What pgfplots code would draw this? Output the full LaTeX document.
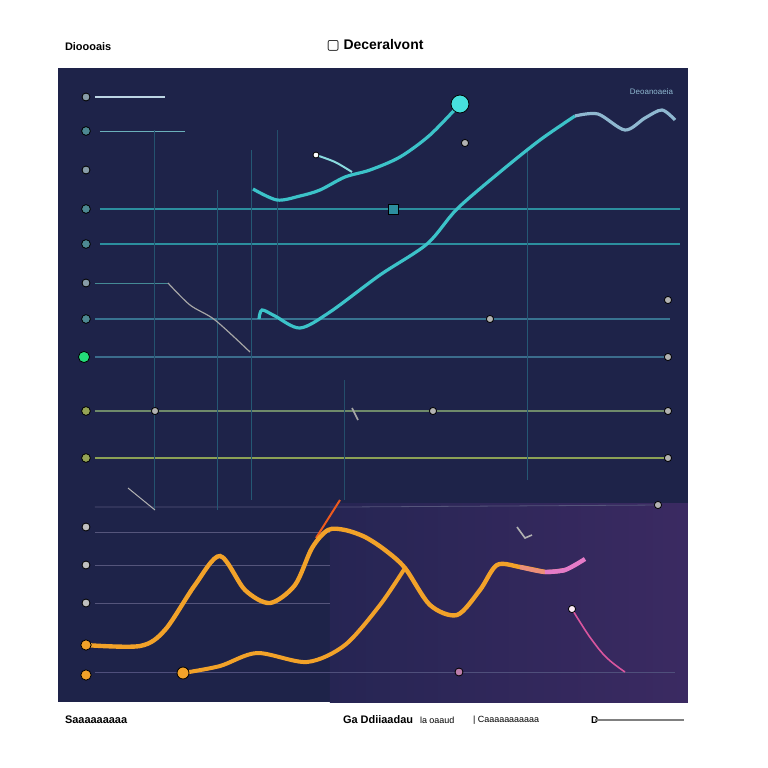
\documentclass[border=0pt]{standalone}
\usepackage{pgfplots}
\pgfplotsset{compat=1.18}
\usepackage{fontspec}
\setmainfont{Liberation Sans}
\newfontfamily\dejavu{DejaVu Sans}
\definecolor{panel}{HTML}{1E2349}
\definecolor{purp}{HTML}{3B2A62}
\definecolor{purpL}{HTML}{262553}
\definecolor{teal}{HTML}{3CC3C9}
\definecolor{tealB}{HTML}{47E0DD}
\definecolor{tealG}{HTML}{2C8E9E}
\definecolor{gridY}{HTML}{6F8A6A}
\definecolor{gridP}{HTML}{4A4A7A}
\definecolor{orng}{HTML}{F2A229}
\definecolor{pinkc}{HTML}{E57BC8}
\definecolor{lblue}{HTML}{8FB8D0}
\begin{document}
\begin{tikzpicture}
\begin{axis}[
  width=315bp, height=317bp, scale only axis,
  xmin=58, xmax=688, ymin=68, ymax=702, y dir=reverse,
  axis background/.style={fill=panel},
  axis line style={draw=none}, xtick=\empty, ytick=\empty,
  clip=false,
]
% bounding box of whole image
\path (axis cs:0,0) rectangle (axis cs:768,768);
% purple region
\addplot[draw=none, left color=purpL, right color=purp] coordinates {(330,503) (688,503) (688,702) (330,702)} -- cycle;
% horizontal grid lines
\addplot[lblue!60, line width=0.6pt] coordinates {(95,97) (165,97)};
\addplot[tealG!70, line width=0.5pt] coordinates {(100,131) (185,131)};
\addplot[tealG, line width=0.8pt] coordinates {(100,209) (680,209)};
\addplot[tealG, line width=0.8pt] coordinates {(100,244) (680,244)};
\addplot[tealG!70!gray, line width=0.5pt] coordinates {(95,283) (168,283)};
\addplot[tealG!60!gridP, line width=0.6pt] coordinates {(95,319) (670,319)};
\addplot[tealG!50!gridP, line width=0.6pt] coordinates {(95,357) (668,357)};
\addplot[gridY, line width=0.6pt] coordinates {(95,411) (668,411)};
\addplot[gridY!80!yellow, line width=0.6pt] coordinates {(95,458) (668,458)};
\addplot[gridP!80!gray, line width=0.4pt] coordinates {(95,507) (345,507) (660,505)};
\addplot[gridP!80!gray, line width=0.4pt] coordinates {(95,532) (330,532)};
\addplot[gridP!80!gray, line width=0.4pt] coordinates {(95,565) (330,565)};
\addplot[gridP!80!gray, line width=0.4pt] coordinates {(95,603) (330,603)};
\addplot[gridP!90!gray, line width=0.4pt] coordinates {(95,672) (675,672)};
% vertical grid lines
\addplot[tealG!45!panel, line width=0.5pt] coordinates {(155,130) (155,510)};
\addplot[tealG!50!panel, line width=0.5pt] coordinates {(218,190) (218,510)};
\addplot[tealG!50!panel, line width=0.5pt] coordinates {(252,150) (252,500)};
\addplot[tealG!40!panel, line width=0.5pt] coordinates {(278,130) (278,320)};
\addplot[tealG!40!panel, line width=0.5pt] coordinates {(345,380) (345,500)};
\addplot[tealG!50!panel, line width=0.5pt] coordinates {(528,150) (528,480)};
% grey diagonal
\addplot[gray!70, line width=0.6pt, smooth] coordinates {(168,283) (190,305) (215,320) (250,352)};
\addplot[gray!60, line width=0.5pt] coordinates {(128,488) (155,510)};
% left tick dots
\addplot[only marks, mark=*, mark size=2pt, mark options={fill=lblue!50!gray, draw=none}] coordinates {(86,97) (86,170) (86,283)};
\addplot[only marks, mark=*, mark size=2.2pt, mark options={fill=tealG!60!gray, draw=none}] coordinates {(86,131) (86,209) (86,244) (86,319)};
\addplot[only marks, mark=*, mark size=2.8pt, mark options={fill=green!40!teal, draw=none}] coordinates {(84,357)};
\addplot[only marks, mark=*, mark size=2.2pt, mark options={fill=gridY!70!yellow!80!gray, draw=none}] coordinates {(86,411) (86,458)};
\addplot[only marks, mark=*, mark size=2pt, mark options={fill=gray!50, draw=none}] coordinates {(86,527) (86,565) (86,603)};
\addplot[only marks, mark=*, mark size=2.6pt, mark options={fill=orng, draw=none}] coordinates {(86,645) (86,675)};
% right / misc dots
\addplot[only marks, mark=*, mark size=1.8pt, mark options={fill=gray!60, draw=none}] coordinates {(465,143) (668,300) (668,357) (668,411) (668,458) (155,411) (433,411) (490,319) (658,505)};
\addplot[only marks, mark=square*, mark size=2.5pt, mark options={fill=tealG, draw=none}] coordinates {(393,209)};
\addplot[only marks, mark=*, mark size=2pt, mark options={fill=pinkc!60!gray, draw=none}] coordinates {(459,672)};
\addplot[only marks, mark=*, mark size=1.8pt, mark options={fill=white!85!pinkc, draw=none}] coordinates {(572,609)};
% teal curve 1
\addplot[teal, line width=1.6pt, smooth] coordinates {(253,189) (277,200) (300,196) (320,190) (345,177) (370,170) (400,157) (430,135) (460,104)};
\addplot[teal!60!white, line width=1pt, smooth] coordinates {(316,155) (335,162) (352,172)};
\addplot[only marks, mark=*, mark size=1.5pt, mark options={fill=white, draw=none}] coordinates {(316,155)};
\addplot[only marks, mark=*, mark size=4.5pt, mark options={fill=tealB, draw=none}] coordinates {(460,104)};
% teal curve 2
\addplot[teal, line width=1.6pt, smooth] coordinates {(259,319) (262,310) (275,316) (300,328) (330,312) (380,275) (427,244) (457,209) (500,172) (540,140) (575,116)};
\addplot[lblue, line width=1.6pt, smooth] coordinates {(575,116) (598,114) (625,130) (645,118) (662,110) (675,120)};
% orange curve 1
\addplot[orng!50!red!80!brown, line width=1pt] coordinates {(316,538) (340,500)};
\addplot[orng, line width=2.2pt, smooth] coordinates {(85,645) (140,646) (165,630) (195,585) (220,556) (245,590) (270,603) (295,585) (312,548) (328,530) (345,530) (365,537) (385,550) (405,568) (430,605) (457,615) (480,590) (497,565) (520,567) (545,572)};
\addplot[pinkc!50!orng, line width=2.2pt, smooth] coordinates {(520,567) (545,572) (565,570)};
\addplot[pinkc, line width=2.2pt, smooth] coordinates {(545,572) (565,570) (585,559)};
% orange curve 2
\addplot[orng, line width=2pt, smooth] coordinates {(183,673) (220,666) (257,653) (307,662) (345,645) (380,605) (405,568)};
\addplot[only marks, mark=*, mark size=3pt, mark options={fill=orng, draw=none}] coordinates {(183,673)};
% pink line
\addplot[pinkc!70!purple, line width=0.8pt, smooth, tension=0.7] coordinates {(572,609) (580,622) (592,640) (607,658) (625,672)};
\addplot[gray!70, line width=0.8pt] coordinates {(352,408) (358,420)};
\addplot[gray!60, line width=0.8pt] coordinates {(517,527) (525,538) (532,535)};
% texts
\node[anchor=west, font=\fontsize{5.5}{7}\selectfont\bfseries] at (axis cs:58,47) {Dioooais};
\node[anchor=center, font=\fontsize{7}{8}\selectfont\bfseries] at (axis cs:375,45) {{\dejavu ▢} Deceralvont};
\node[anchor=east, font=\fontsize{4}{5}\selectfont, text=lblue] at (axis cs:680,92) {Deoanoaeia};
\node[anchor=west, font=\fontsize{5.5}{7}\selectfont\bfseries] at (axis cs:58,720) {Saaaaaaaaa};
\node[anchor=west, font=\fontsize{5.5}{7}\selectfont\bfseries] at (axis cs:336,720) {Ga Ddiiaadau};
\node[anchor=west, font=\fontsize{4.5}{5}\selectfont] at (axis cs:413,720) {la oaaud};
\node[anchor=west, font=\fontsize{4.5}{6}\selectfont] at (axis cs:466,720) {| Caaaaaaaaaaa};
\node[anchor=west, font=\fontsize{5}{6}\selectfont\bfseries] at (axis cs:584,720) {D};
\addplot[gray, line width=1.2pt] coordinates {(595,720) (684,720)};
\end{axis}
\end{tikzpicture}
\end{document}
